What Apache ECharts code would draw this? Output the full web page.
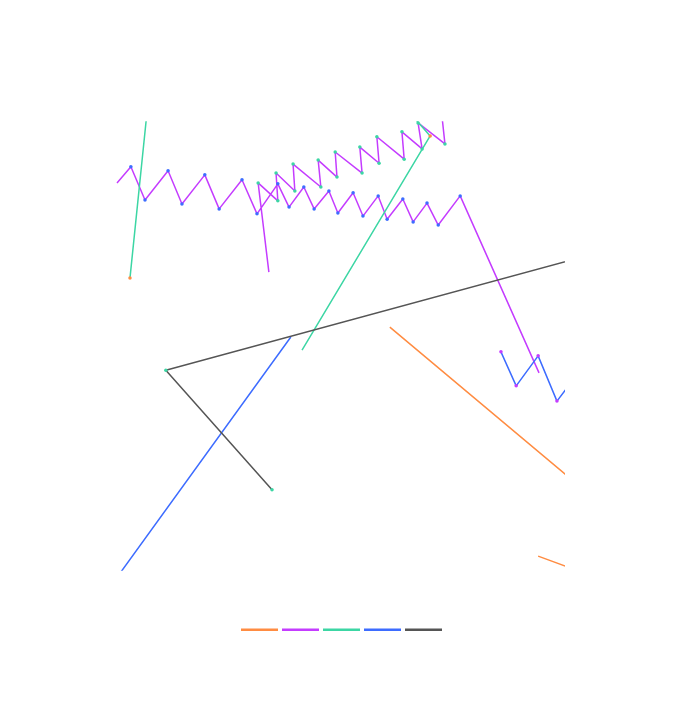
<!DOCTYPE html>
<html>
<head>
<meta charset="utf-8">
<script src="https://cdn.jsdelivr.net/npm/echarts@6/dist/echarts.min.js"></script>
<style>
  html, body {margin: 0; padding: 0; background: #fff;}
  #chart {width: 686px; height: 702px;}
</style>
</head>
<body>
<div id="chart"></div>
<script>
  'use strict'

  //------------------- Data START -------------------//
  // hidden value axes; null breaks a path, 'none' hides the vertex mark
  const seriesNames = ['orange', 'purple', 'teal', 'blue', 'gray']
  const lineColors = ['#ff8c42', '#c43cff', '#3cd6a4', '#3d6cff', '#555555']

  const orangePoints = [
    [60.9, 54.2, 'none'], [102.2, 19.6, 'none'],
    null,
    [94.0, 3.1, 'none'], [102.2, 0.1, 'none'],
  ]
  const orangeMarks = '#ff8c42'

  const purpleLowerPoints = [
    [0, 86.4, 'none'], [3.1, 90.0], [6.25, 82.6], [11.4, 89.1], [14.5, 81.7],
    [19.6, 88.2], [22.8, 80.6], [27.9, 87.1], [31.25, 79.5], [35.9, 86.2],
    [38.4, 81.0], [41.7, 85.5], [44.0, 80.6], [47.3, 84.6], [49.3, 79.7],
    [52.7, 84.2], [54.9, 79.0], [58.3, 83.5], [60.3, 78.3], [63.8, 82.8],
    [66.1, 77.7], [69.2, 81.9], [71.7, 77.0], [76.6, 83.5], [94.2, 44.0, 'none'],
  ]
  const purpleLowerMarks = '#3d6cff'

  const purpleUpperPoints = [
    [33.9, 66.5, 'none'], [31.5, 86.4], [35.9, 82.4], [35.5, 88.6], [39.7, 84.6],
    [39.3, 90.6], [45.5, 85.5], [44.9, 91.5], [49.1, 87.7], [48.7, 93.3],
    [54.7, 88.6], [54.2, 94.4], [58.5, 90.8], [58.0, 96.7], [64.1, 91.7],
    [63.6, 97.8], [68.1, 94.0], [67.2, 99.8], [73.2, 95.1], [72.5, 101.6, 'none'],
  ]
  const purpleUpperMarks = '#3cd6a4'

  const tealPoints = [
    [6.7, 102.2, 'none'], [2.9, 65.2],
    null,
    [41.3, 49.1, 'none'], [69.9, 96.9], [65.4, 102.0, 'none'],
  ]
  const tealMarks = '#ff8c42'

  const bluePoints = [
    [-0.4, -2.2, 'none'], [38.8, 52.0, 'none'],
    null,
    [85.7, 48.7], [89.1, 41.1], [94.0, 47.8], [98.2, 37.7], [101.6, 42.2, 'none'],
  ]
  const blueMarks = '#c43cff'

  const grayPoints = [
    [102.2, 69.4, 'none'], [10.9, 44.6], [34.6, 17.9],
  ]
  const grayMarks = '#3cd6a4'
  //------------------- Data END -------------------//

  const toData = (points, markColor) => points.map(p => {
    if (p == null) return null
    const item = {value: [p[0], p[1]], itemStyle: {color: markColor}}
    if (p[2] === 'none') item.symbol = 'none'
    return item
  })

  const purpleData = [
    ...toData(purpleLowerPoints, purpleLowerMarks),
    null,
    ...toData(purpleUpperPoints, purpleUpperMarks),
  ]

  const seriesData = [
    toData(orangePoints, orangeMarks),
    purpleData,
    toData(tealPoints, tealMarks),
    toData(bluePoints, blueMarks),
    toData(grayPoints, grayMarks),
  ]

  const series = seriesNames.map((name, i) => ({
    name,
    type: 'line',
    data: seriesData[i],
    connectNulls: false,
    clip: true,
    symbol: 'circle',
    symbolSize: 3.5,
    color: lineColors[i],
    lineStyle: {width: 1.5, color: lineColors[i]},
  }))

  const chart = echarts.init(document.getElementById('chart'))
  chart.setOption({
    animation: false,
    grid: {left: 117, right: 123, top: 122, bottom: 132},
    xAxis: {type: 'value', min: 0, max: 99.55, show: false},
    yAxis: {type: 'value', min: 0, max: 100, show: false},
    legend: {
      bottom: 66,
      left: 236,
      icon: 'rect',
      itemWidth: 37,
      itemHeight: 2.5,
      itemGap: 4,
      formatter: () => '',
      data: seriesNames.map((name, i) => ({name, itemStyle: {color: lineColors[i]}})),
    },
    series,
  })
</script>
</body>
</html>
